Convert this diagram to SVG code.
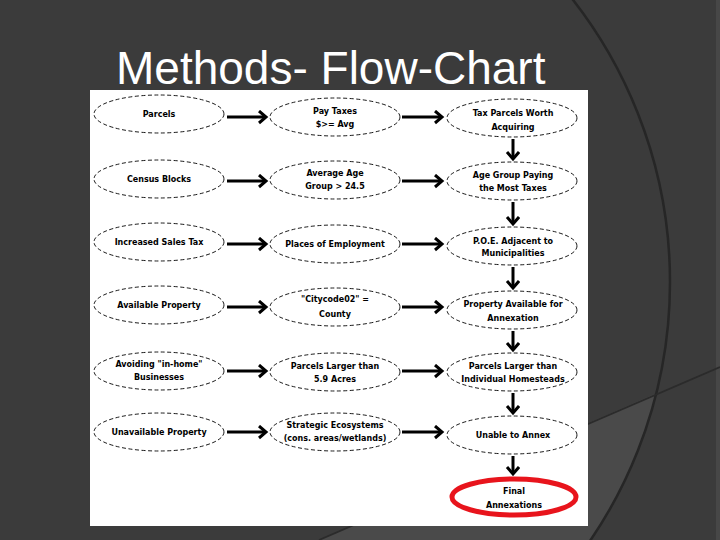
<svg xmlns="http://www.w3.org/2000/svg" width="720" height="540" viewBox="0 0 720 540">
<defs>
<marker id="ah" markerUnits="userSpaceOnUse" markerWidth="14" markerHeight="16" refX="8" refY="7" orient="auto">
<path d="M1,1 L8,7 L1,13" fill="none" stroke="#000" stroke-width="3" stroke-linejoin="miter"/>
</marker>
<style>
.nd{fill:#fff;stroke:#000;stroke-width:0.9;stroke-dasharray:4 2.5}
.fin{fill:#fff;stroke:#e8141c;stroke-width:5}
.t{font-family:"DejaVu Sans",Verdana,sans-serif;font-weight:bold;font-size:8px;fill:#000;text-anchor:middle}
.cn line{stroke:#000;stroke-width:3;marker-end:url(#ah)}
</style>
</defs>
<rect x="0" y="0" width="720" height="540" fill="#3b3b3b"/>
<rect x="716" y="0" width="4" height="540" fill="#474747"/>
<path d="M319,540 L657,393 A458.4 458.4 0 0 1 590.6,540 Z" fill="#4a4a4a"/>
<circle cx="211.6" cy="282" r="458.4" fill="none" stroke="#262626" stroke-width="2.5"/>
<line x1="319" y1="540" x2="720" y2="367" stroke="#2b2b2b" stroke-width="1.8"/>
<text x="116" y="84" font-family="Liberation Sans, Arial, sans-serif" font-size="46" fill="#fff">Methods- Flow-Chart</text>
<rect x="90" y="90" width="498" height="436" fill="#fff"/>
<g class="cn" id="connectors">
<line x1="227" y1="117" x2="266" y2="117"/>
<line x1="227" y1="181" x2="266" y2="181"/>
<line x1="227" y1="244" x2="266" y2="244"/>
<line x1="227" y1="307" x2="266" y2="307"/>
<line x1="227" y1="371" x2="266" y2="371"/>
<line x1="227" y1="432" x2="266" y2="432"/>
<line x1="402" y1="117" x2="442" y2="117"/>
<line x1="402" y1="181" x2="442" y2="181"/>
<line x1="402" y1="244" x2="442" y2="244"/>
<line x1="402" y1="307" x2="442" y2="307"/>
<line x1="402" y1="371" x2="442" y2="371"/>
<line x1="402" y1="432" x2="442" y2="432"/>
<line x1="513" y1="139" x2="513" y2="159"/>
<line x1="513" y1="202" x2="513" y2="224"/>
<line x1="513" y1="267" x2="513" y2="288"/>
<line x1="513" y1="331" x2="513" y2="350"/>
<line x1="513" y1="393" x2="513" y2="413"/>
<line x1="513" y1="456" x2="513" y2="474"/>
</g>
<g id="n-parcels"><ellipse class="nd" cx="159" cy="114" rx="65" ry="19"/><text class="t" x="159" y="117">Parcels</text></g>
<g id="n-census"><ellipse class="nd" cx="159" cy="179" rx="65" ry="19"/><text class="t" x="159" y="182">Census Blocks</text></g>
<g id="n-sales"><ellipse class="nd" cx="159" cy="242" rx="65" ry="19"/><text class="t" x="159" y="245">Increased Sales Tax</text></g>
<g id="n-avail"><ellipse class="nd" cx="159" cy="305" rx="65" ry="19"/><text class="t" x="159" y="308">Available Property</text></g>
<g id="n-inhome"><ellipse class="nd" cx="159" cy="371" rx="65" ry="19"/><text class="t" x="159" y="367">Avoiding "in-home"</text><text class="t" x="159" y="380">Businesses</text></g>
<g id="n-unavail"><ellipse class="nd" cx="159" cy="432" rx="65" ry="19"/><text class="t" x="159" y="435">Unavailable Property</text></g>
<g id="n-paytax"><ellipse class="nd" cx="335" cy="117" rx="65" ry="19"/><text class="t" x="335" y="114">Pay Taxes</text><text class="t" x="335" y="127">$&gt;= Avg</text></g>
<g id="n-avgage"><ellipse class="nd" cx="335" cy="180" rx="65" ry="19"/><text class="t" x="335" y="176">Average Age</text><text class="t" x="335" y="189">Group &gt; 24.5</text></g>
<g id="n-poe"><ellipse class="nd" cx="335" cy="244" rx="65" ry="19"/><text class="t" x="335" y="247">Places of Employment</text></g>
<g id="n-city"><ellipse class="nd" cx="335" cy="307" rx="65" ry="19"/><text class="t" x="335" y="302">"Citycode02" =</text><text class="t" x="335" y="317">County</text></g>
<g id="n-larger"><ellipse class="nd" cx="335" cy="372" rx="65" ry="19"/><text class="t" x="335" y="369">Parcels Larger than</text><text class="t" x="335" y="382">5.9 Acres</text></g>
<g id="n-eco"><ellipse class="nd" cx="335" cy="432" rx="65" ry="19"/><text class="t" x="335" y="428">Strategic Ecosystems</text><text class="t" x="335" y="441">(cons. areas/wetlands)</text></g>
<g id="n-worth"><ellipse class="nd" cx="512" cy="118" rx="65" ry="19"/><text class="t" x="513" y="116">Tax Parcels Worth</text><text class="t" x="513" y="130">Acquiring</text></g>
<g id="n-agegroup"><ellipse class="nd" cx="512" cy="181" rx="65" ry="19"/><text class="t" x="513" y="178">Age Group Paying</text><text class="t" x="513" y="191">the Most Taxes</text></g>
<g id="n-adjacent"><ellipse class="nd" cx="512" cy="246" rx="65" ry="19"/><text class="t" x="513" y="244">P.O.E. Adjacent to</text><text class="t" x="513" y="256">Municipalities</text></g>
<g id="n-propavail"><ellipse class="nd" cx="512" cy="310" rx="65" ry="19"/><text class="t" x="513" y="307">Property Available for</text><text class="t" x="513" y="321">Annexation</text></g>
<g id="n-homesteads"><ellipse class="nd" cx="512" cy="372" rx="65" ry="19"/><text class="t" x="513" y="369">Parcels Larger than</text><text class="t" x="513" y="382">Individual Homesteads</text></g>
<g id="n-unable"><ellipse class="nd" cx="512" cy="435" rx="65" ry="19"/><text class="t" x="513" y="438">Unable to Annex</text></g>
<g id="n-final"><ellipse class="fin" cx="514" cy="497" rx="62" ry="18"/><text class="t" x="514" y="494">Final</text><text class="t" x="514" y="508">Annexations</text></g>
</svg>
